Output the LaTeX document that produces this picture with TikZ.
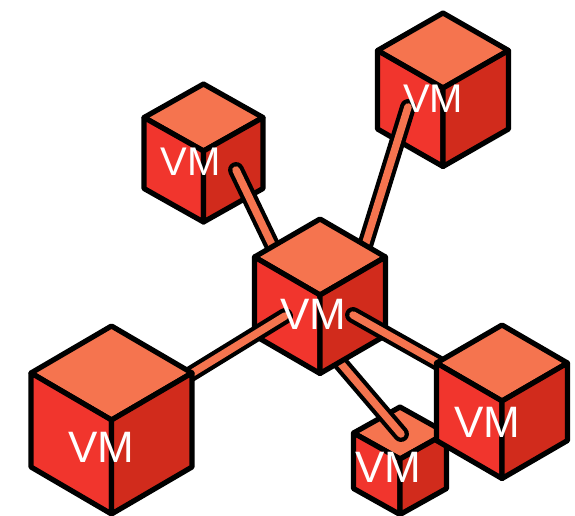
\documentclass[tikz,border=0pt]{standalone}
\usepackage{fontspec}
\setmainfont{Liberation Sans}
\definecolor{cubetop}{HTML}{F5744F}
\definecolor{cubeleft}{HTML}{F1352D}
\definecolor{cuberight}{HTML}{D12B1C}
\newcommand{\vmcube}[6]{% name, cx, top y, half width, rise, side height
  \coordinate (#1T) at (#2,#3);
  \coordinate (#1L) at (#2-#4,#3+#5);
  \coordinate (#1R) at (#2+#4,#3+#5);
  \coordinate (#1M) at (#2,#3+2*#5);
  \coordinate (#1LB) at (#2-#4,#3+#5+#6);
  \coordinate (#1RB) at (#2+#4,#3+#5+#6);
  \coordinate (#1B) at (#2,#3+2*#5+#6);
  \path[cubeface,fill=cubetop] (#1T) -- (#1R) -- (#1M) -- (#1L) -- cycle;
  \path[cubeface,fill=cubeleft] (#1L) -- (#1M) -- (#1B) -- (#1LB) -- cycle;
  \path[cubeface,fill=cuberight] (#1R) -- (#1M) -- (#1B) -- (#1RB) -- cycle;
}
\tikzset{
  cubeface/.style={draw=black,line width=5.2pt,line join=round},
  wire/.style={draw=black,double=cubetop,double distance=7.5pt,line width=4.2pt,line cap=round},
  vmlabel/.style={text=white,font=\fontsize{44}{44}\selectfont,inner sep=0pt},
  vmsmall/.style={text=white,font=\fontsize{40}{40}\selectfont,inner sep=0pt}
}
\begin{document}
\begin{tikzpicture}[x=1pt,y=-1pt]
\useasboundingbox (0,0) rectangle (575,516);
\coordinate (tlIn) at (236,170);
\coordinate (tlHub) at (285,272);
\coordinate (trIn) at (408,107);
\coordinate (trHub) at (355,278);
\coordinate (sIn) at (401,434);
\coordinate (sHub) at (325,345);
\coordinate (llHub) at (285,316);
\coordinate (llIn) at (150,399);
\coordinate (rHub) at (353,315);
\coordinate (rIn) at (470,381);
% back cubes
\vmcube{tl}{203.5}{84}{59.5}{33.5}{71}
\vmcube{tr}{443}{13}{65.5}{37.5}{78.5}
\vmcube{sm}{400}{407}{46.5}{26}{55.5}
% connectors under the hub
\draw[wire] (tlIn) -- (tlHub);
\draw[wire] (trIn) -- (trHub);
\draw[wire] (sIn) -- (sHub);
% hub
\vmcube{hub}{320}{219}{65.5}{38}{78.5}
% connectors over the hub
\draw[wire] (llHub) -- (llIn);
\draw[wire] (rHub) -- (rIn);
% front cubes
\vmcube{ll}{111.5}{326}{80.5}{47}{94}
\vmcube{rt}{502}{325}{65.5}{38}{77.5}
% labels
\node[vmlabel] (hubLabel) at (313,314) {VM};
\node[vmsmall] (trLabel) at (433,99) {VM};
\node[vmsmall] (tlLabel) at (190.5,162) {VM};
\node[vmlabel] (llLabel) at (101,447) {VM};
\node[vmlabel] (rtLabel) at (487.5,422) {VM};
\node[vmlabel] (smLabel) at (388.5,467) {VM};
\end{tikzpicture}
\end{document}
